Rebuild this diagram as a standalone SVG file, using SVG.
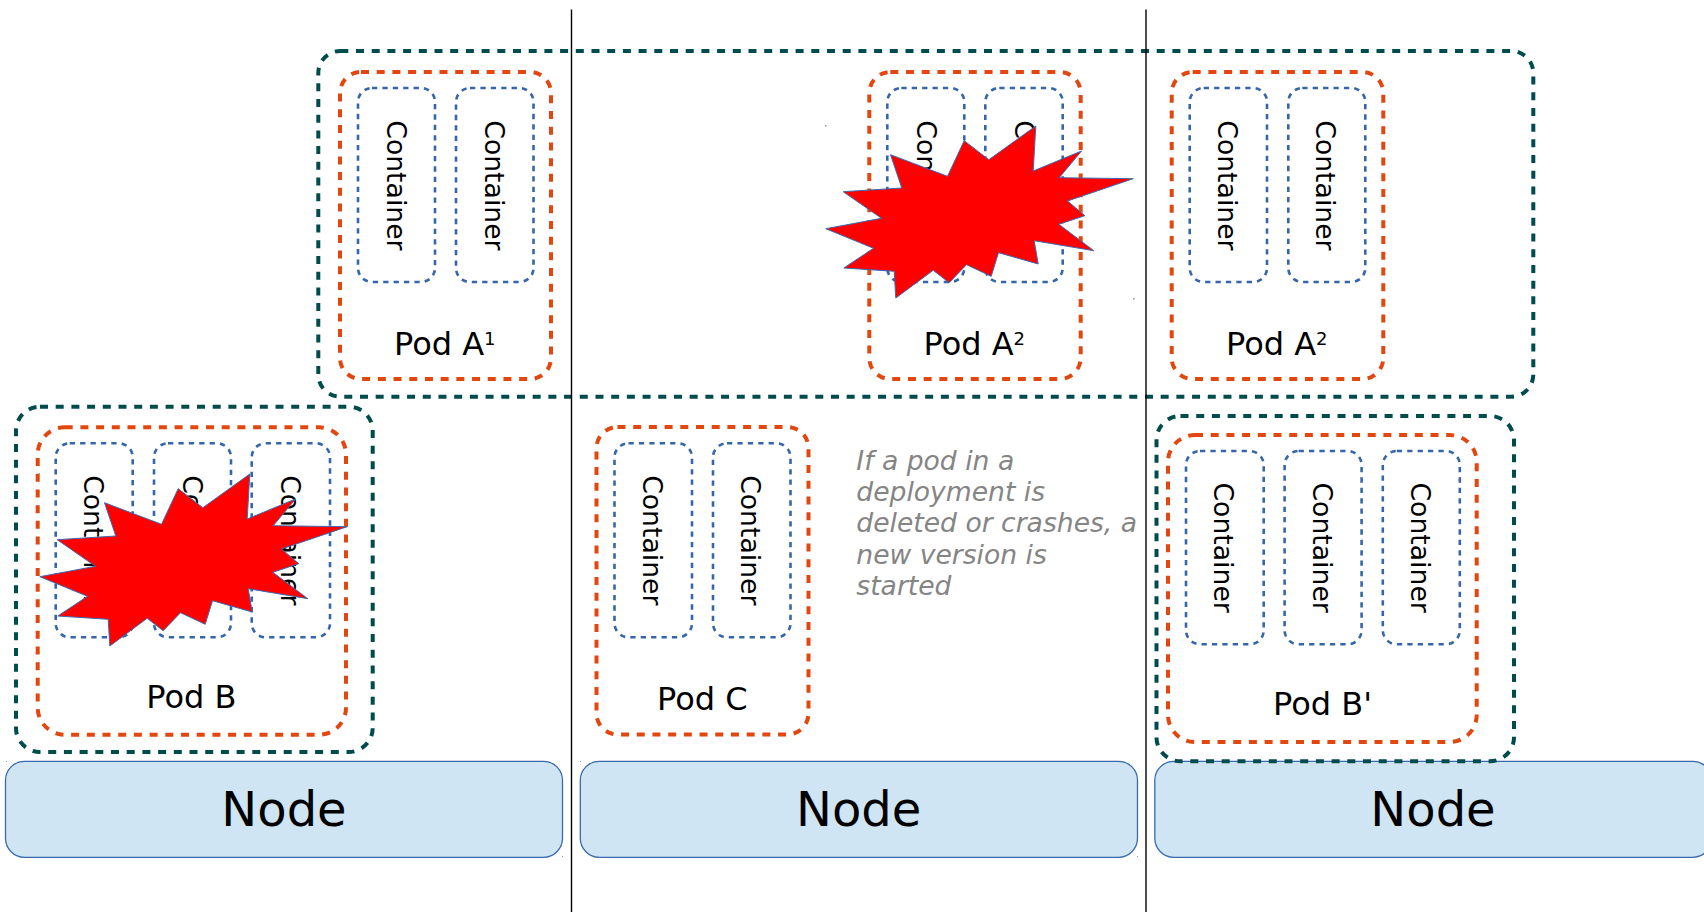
<svg xmlns="http://www.w3.org/2000/svg" xmlns:xlink="http://www.w3.org/1999/xlink" width="1704" height="912" viewBox="0 0 1704 912">
<style>
text{font-family:"DejaVu Sans",sans-serif;fill:#000}
.dep{fill:none;stroke:#004C4C;stroke-width:4;stroke-dasharray:8 7.7}
.pod{fill:none;stroke:#E2470F;stroke-width:4;stroke-dasharray:8 7.7}
.con{fill:none;stroke:#3566AA;stroke-width:2.6;stroke-dasharray:5.3 5.1}
.ct{font-size:26.67px}
.pl{font-size:32px}
.sup{font-size:18px}
.nd{fill:#CFE5F4;stroke:#3A6AAE;stroke-width:1.3}
.nt{font-size:48px;text-anchor:middle}
.note{font-size:26.6px;font-style:italic;fill:#858585}
.sep{stroke:#000;stroke-width:1.4;fill:none}
.burst{fill:#F00;stroke:#3A6AAE;stroke-width:1;stroke-linejoin:miter}
.sp{fill:#7F9CCB}
</style>
<defs>
<polygon id="star" class="burst" points="104,502.7 161,524.3 177.7,488.7 202.3,507.7 249.3,474 246.7,519 295,499 272.7,525.7 346.7,526.7 281,549 298.3,563.7 272.3,572.3 307.3,598.7 247.7,588.7 251.7,612 212,600.7 204.7,624.3 180,612.7 162.7,630.7 146.7,618.3 109.3,646 107.7,619.3 57.3,616 87,596.3 39.3,576.7 95,566.3 56.7,539.7 115.3,536"/>
</defs>

<g id="node-1"><rect class="nd" x="5.5" y="761.3" width="557" height="96" rx="19"/><text class="nt" x="284" y="825.5">Node</text></g>
<g id="node-2"><rect class="nd" x="580.3" y="761.3" width="557.2" height="96" rx="19"/><text class="nt" x="858.7" y="825.5">Node</text></g>
<g id="node-3"><rect class="nd" x="1154.8" y="761.3" width="557" height="96" rx="19"/><text class="nt" x="1433" y="825.5">Node</text></g>

<g id="deployment-a"><rect class="dep" x="318.3" y="51" width="1215" height="345.7" rx="22"/></g>

<g id="pod-a1">
<rect class="pod" x="340" y="72" width="211" height="307" rx="21"/>
<rect class="con" x="358" y="88" width="77" height="194" rx="14"/>
<rect class="con" x="456" y="88" width="77.5" height="194" rx="14"/>
<text class="ct" transform="translate(387 120.3) rotate(90)">Container</text>
<text class="ct" transform="translate(484.7 120.3) rotate(90)">Container</text>
<text class="pl" x="394" y="355">Pod A<tspan class="sup" dy="-10">1</tspan></text>
</g>

<g id="pod-a2">
<rect class="pod" x="869.3" y="72" width="211.4" height="307" rx="21"/>
<rect class="con" x="887.3" y="88" width="77" height="194" rx="14"/>
<rect class="con" x="985.3" y="88" width="77.4" height="194" rx="14"/>
<text class="ct" transform="translate(916.7 120.3) rotate(90)">Container</text>
<text class="ct" transform="translate(1014.7 120.3) rotate(90)">Container</text>
<text class="pl" x="923.5" y="355">Pod A<tspan class="sup" dy="-10">2</tspan></text>
</g>

<g id="pod-a3">
<rect class="pod" x="1171.7" y="72" width="211.6" height="307" rx="21"/>
<rect class="con" x="1189.7" y="88" width="77.3" height="194" rx="14"/>
<rect class="con" x="1288.3" y="88" width="77" height="194" rx="14"/>
<text class="ct" transform="translate(1218 120.3) rotate(90)">Container</text>
<text class="ct" transform="translate(1316.4 120.3) rotate(90)">Container</text>
<text class="pl" x="1226" y="355">Pod A<tspan class="sup" dy="-10">2</tspan></text>
</g>

<g id="deployment-b"><rect class="dep" x="16" y="406.7" width="356.7" height="345.3" rx="24"/></g>

<g id="pod-b">
<rect class="pod" x="37.7" y="427.3" width="308.3" height="307.4" rx="27"/>
<rect class="con" x="55.7" y="443.3" width="77" height="194" rx="14"/>
<rect class="con" x="154" y="443.3" width="77" height="194" rx="14"/>
<rect class="con" x="251.7" y="443.3" width="78.3" height="194" rx="14"/>
<text class="ct" transform="translate(83.8 475.2) rotate(90)">Container</text>
<text class="ct" transform="translate(183.2 475.2) rotate(90)">Container</text>
<text class="ct" transform="translate(280.5 475.2) rotate(90)">Container</text>
<text class="pl" x="146.3" y="708">Pod B</text>
</g>

<g id="pod-c">
<rect class="pod" x="596.5" y="427" width="212" height="307.4" rx="21"/>
<rect class="con" x="614.5" y="443.3" width="77.5" height="194" rx="14"/>
<rect class="con" x="713" y="443.3" width="77.5" height="194" rx="14"/>
<text class="ct" transform="translate(643 475.2) rotate(90)">Container</text>
<text class="ct" transform="translate(741 475.2) rotate(90)">Container</text>
<text class="pl" x="657" y="710">Pod C</text>
</g>

<g id="deployment-b-prime"><rect class="dep" x="1156.5" y="416" width="357.5" height="345.3" rx="24"/></g>

<g id="pod-b-prime">
<rect class="pod" x="1168" y="435" width="308.7" height="307" rx="27"/>
<rect class="con" x="1186" y="451" width="77.7" height="193.3" rx="14"/>
<rect class="con" x="1284.6" y="451" width="77" height="193.3" rx="14"/>
<rect class="con" x="1382.8" y="451" width="77" height="193.3" rx="14"/>
<text class="ct" transform="translate(1214.2 482.5) rotate(90)">Container</text>
<text class="ct" transform="translate(1313.2 482.5) rotate(90)">Container</text>
<text class="ct" transform="translate(1411 482.5) rotate(90)">Container</text>
<text class="pl" x="1273" y="714.7">Pod B'</text>
</g>

<g id="burst-a"><use href="#star" xlink:href="#star" transform="translate(786.5 -348)"/></g>
<g id="burst-b"><use href="#star" xlink:href="#star" transform="translate(0.5 0)"/></g>

<g id="note">
<text class="note" x="856.3" y="470">If a pod in a</text>
<text class="note" x="856.3" y="501">deployment is</text>
<text class="note" x="856.3" y="532.3">deleted or crashes, a</text>
<text class="note" x="856.3" y="563.7">new version is</text>
<text class="note" x="856.3" y="595">started</text>
</g>

<g id="connectors">
<line class="sep" x1="571.5" y1="9.5" x2="571.5" y2="912"/>
<line class="sep" x1="1146" y1="9.5" x2="1146" y2="912"/>
</g>

<g id="specks">
<rect class="sp" x="825" y="125" width="1.5" height="1.5"/>
<rect class="sp" x="1133" y="298" width="1.5" height="1.5"/>
<rect class="sp" x="39" y="473" width="1" height="1"/>
<rect class="sp" x="6" y="761" width="1" height="1"/>
<rect class="sp" x="562" y="856" width="1" height="1"/>
<rect class="sp" x="580" y="761" width="1" height="1"/>
<rect class="sp" x="1137" y="856" width="1" height="1"/>
</g>
</svg>
